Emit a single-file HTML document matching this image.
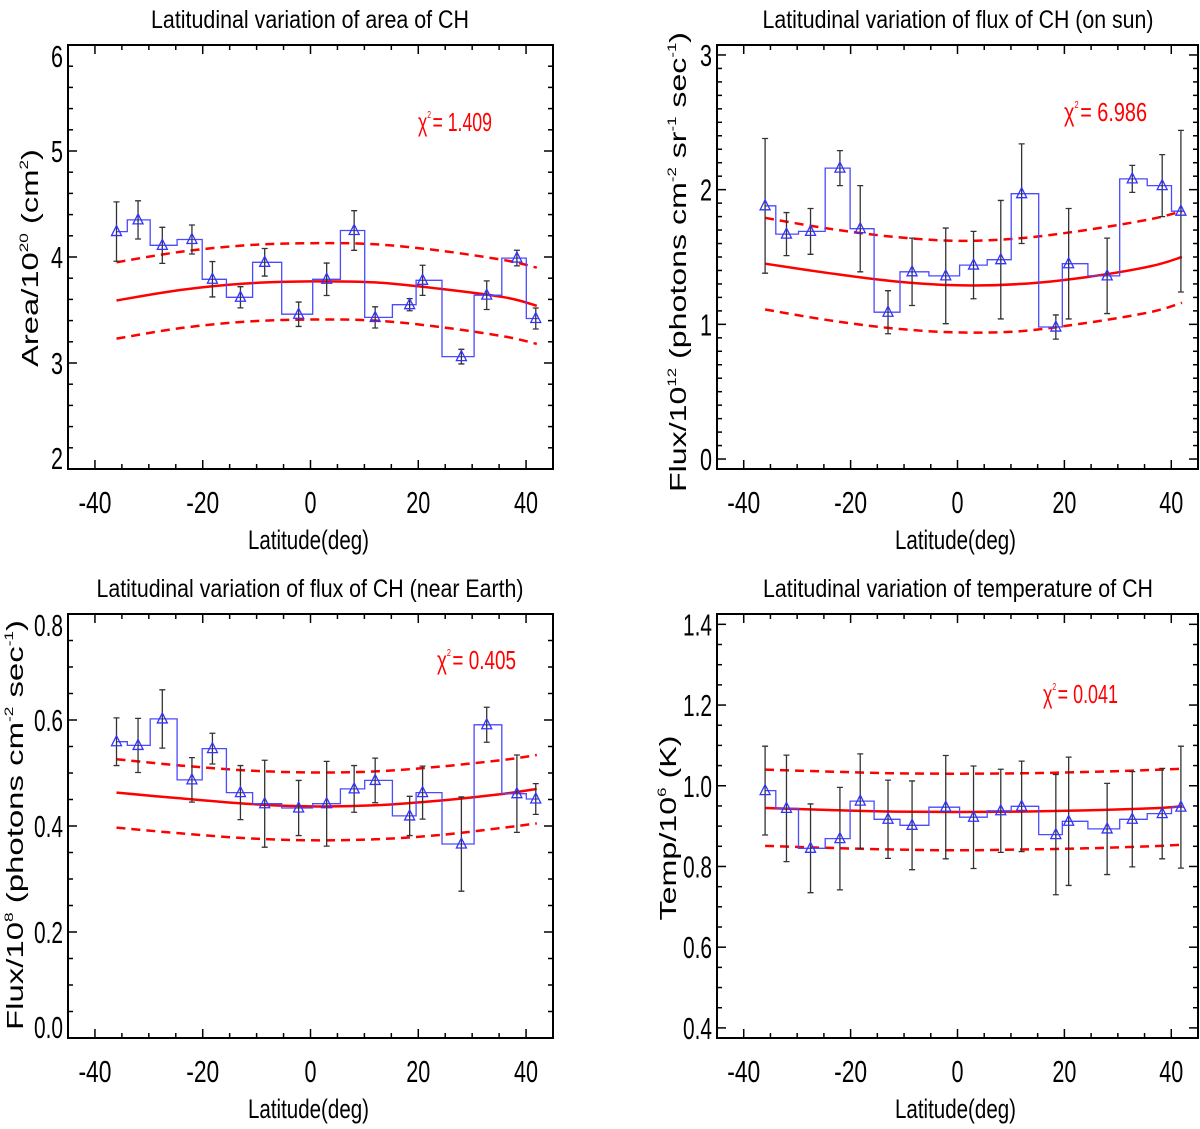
<!DOCTYPE html>
<html><head><meta charset="utf-8">
<style>
html,body{margin:0;padding:0;background:#fff;}
svg{display:block;}
text{font-family:"Liberation Sans",sans-serif;}
</style></head>
<body>
<svg id="fig" width="1200" height="1129" viewBox="0 0 1200 1129" xmlns="http://www.w3.org/2000/svg"></svg>
<script>
const lat = [-36,-32,-27.5,-22,-18.2,-13,-8.5,-2.2,3,8.1,12,18.4,20.8,28,32.7,38.3,41.8];
const fitLat = [-36,-24,-12,0,12,24,36,42];
const xTicks = [-40,-20,0,20,40];

const areaVal = [4.24,4.35,4.11,4.165,3.79,3.62,3.95,3.46,3.79,4.25,3.43,3.55,3.78,3.06,3.64,3.99,3.42];
const areaErr = [0.28,0.18,0.17,0.137,0.167,0.10,0.13,0.115,0.153,0.187,0.10,0.057,0.142,0.069,0.135,0.074,0.099];
const areaFit = [3.59,3.69,3.75,3.77,3.76,3.70,3.62,3.54];
const areaHi = [3.95,4.05,4.11,4.13,4.12,4.06,3.97,3.90];
const areaLo = [3.23,3.33,3.39,3.41,3.40,3.34,3.25,3.18];
const areaYTicks = ["2","3","4","5","6"];

const sunVal = [1.88,1.67,1.69,2.16,1.71,1.09,1.39,1.36,1.44,1.48,1.97,0.98,1.45,1.36,2.08,2.03,1.84];
const sunErr = [0.5,0.16,0.17,0.13,0.32,0.16,0.25,0.355,0.25,0.44,0.37,0.09,0.41,0.28,0.10,0.23,0.6];
const sunFit = [1.45,1.38,1.32,1.29,1.30,1.35,1.43,1.50];
const sunHi = [1.79,1.71,1.65,1.62,1.64,1.70,1.78,1.84];
const sunLo = [1.11,1.03,0.97,0.94,0.95,1.01,1.09,1.16];
const sunYTicks = ["0","1","2","3"];

const earthVal = [0.559,0.552,0.602,0.487,0.546,0.463,0.442,0.434,0.442,0.470,0.486,0.419,0.463,0.366,0.591,0.461,0.451];
const earthErr = [0.045,0.051,0.055,0.042,0.029,0.051,0.082,0.052,0.080,0.044,0.042,0.037,0.050,0.089,0.033,0.073,0.029];
const earthFit = [0.463,0.452,0.442,0.437,0.439,0.448,0.461,0.470];
const earthHi = [0.526,0.514,0.505,0.501,0.503,0.512,0.525,0.534];
const earthLo = [0.397,0.386,0.377,0.373,0.375,0.383,0.397,0.405];
const earthYTicks = ["0.0","0.2","0.4","0.6","0.8"];

const tempVal = [0.988,0.944,0.845,0.869,0.962,0.917,0.902,0.947,0.922,0.938,0.949,0.879,0.912,0.893,0.917,0.931,0.947];
const tempErr = [0.110,0.132,0.110,0.127,0.117,0.097,0.110,0.128,0.127,0.103,0.112,0.149,0.159,0.113,0.118,0.112,0.151];
const tempFit = [0.945,0.940,0.936,0.935,0.936,0.939,0.944,0.949];
const tempHi = [1.040,1.035,1.031,1.030,1.031,1.034,1.039,1.042];
const tempLo = [0.851,0.846,0.842,0.840,0.842,0.845,0.850,0.854];
const tempYTicks = ["0.4","0.6","0.8","1.0","1.2","1.4"];

const NS = "http://www.w3.org/2000/svg";
const svg = document.getElementById('fig');
function mk(tag, attrs, parent){
  const e = document.createElementNS(NS, tag);
  for (const k in attrs) e.setAttribute(k, attrs[k]);
  (parent||svg).appendChild(e);
  return e;
}

const panels = [
 {id:'area', x0:68, x1:553, y0:45, y1:469, ymin:2, ymax:6, minor:0.2, yTicks:areaYTicks,
  val:areaVal, err:areaErr, fit:areaFit, hi:areaHi, lo:areaLo,
  title:"Latitudinal variation of area of CH", tx:310, ty:28, tw:318,
  chi:"= 1.409", cx:418, cy:131, cw:74, ylab:["Area/10","20"," (cm","2",")"], ylx:38, yly:258, ylw:218, lblx:63},
 {id:'flux-sun', x0:717, x1:1198, y0:45, y1:469, ymin:-0.074, ymax:3.074, minor:0.1, yTicks:sunYTicks,
  val:sunVal, err:sunErr, fit:sunFit, hi:sunHi, lo:sunLo,
  title:"Latitudinal variation of flux of CH (on sun)", tx:958, ty:28, tw:391,
  chi:"= 6.986", cx:1064, cy:121, cw:83, ylab:["Flux/10","12"," (photons cm","-2"," sr","-1"," sec","-1",")"], ylx:686, yly:262, ylw:460, lblx:712},
 {id:'flux-earth', x0:68, x1:553, y0:614, y1:1038, ymin:0, ymax:0.8, minor:0.05, yTicks:earthYTicks,
  val:earthVal, err:earthErr, fit:earthFit, hi:earthHi, lo:earthLo,
  title:"Latitudinal variation of flux of CH (near Earth)", tx:310, ty:597, tw:427,
  chi:"= 0.405", cx:437, cy:669, cw:79, ylab:["Flux/10","8"," (photons cm","-2"," sec","-1",")"], ylx:23, yly:825, ylw:410, lblx:63},
 {id:'temp', x0:717, x1:1198, y0:614, y1:1038, ymin:0.375, ymax:1.4256, minor:0.05, yTicks:tempYTicks,
  val:tempVal, err:tempErr, fit:tempFit, hi:tempHi, lo:tempLo,
  title:"Latitudinal variation of temperature of CH", tx:958, ty:597, tw:390,
  chi:"= 0.041", cx:1043, cy:703, cw:75, ylab:["Temp/10","6"," (K)"], ylx:676, yly:828, ylw:185, lblx:712}
];

function smoothPath(pts){
  let d = 'M' + pts[0][0].toFixed(1) + ',' + pts[0][1].toFixed(1);
  for (let i = 0; i < pts.length - 1; i++) {
    const p0 = pts[Math.max(0, i-1)], p1 = pts[i], p2 = pts[i+1], p3 = pts[Math.min(pts.length-1, i+2)];
    const c1x = p1[0] + (p2[0]-p0[0])/6, c1y = p1[1] + (p2[1]-p0[1])/6;
    const c2x = p2[0] - (p3[0]-p1[0])/6, c2y = p2[1] - (p3[1]-p1[1])/6;
    d += ` C${c1x.toFixed(1)},${c1y.toFixed(1)} ${c2x.toFixed(1)},${c2y.toFixed(1)} ${p2[0].toFixed(1)},${p2[1].toFixed(1)}`;
  }
  return d;
}

panels.forEach(p => {
  const g = mk('g', {});
  
  
  const X = v => p.x0 + (v + 45) / 90 * (p.x1 - p.x0);
  const Y = v => p.y1 - (v - p.ymin) / (p.ymax - p.ymin) * (p.y1 - p.y0);

  const t = mk('text', {x:p.tx, y:p.ty, 'text-anchor':'middle', 'font-size':25, textLength:p.tw, lengthAdjust:'spacingAndGlyphs', fill:'#000'}, g);
  t.textContent = p.title;
  
  

  const fr = mk('rect', {x:p.x0, y:p.y0, width:p.x1-p.x0, height:p.y1-p.y0, fill:'none', stroke:'#000', 'stroke-width':2}, g);
  
  

  for (let v = -45; v <= 45; v += 5) {
    const major = v % 20 === 0;
    const L = major ? 9 : 5;
    mk('line', {x1:X(v), x2:X(v), y1:p.y1, y2:p.y1-L, stroke:'#000', 'stroke-width':1.5}, g);
    mk('line', {x1:X(v), x2:X(v), y1:p.y0, y2:p.y0+L, stroke:'#000', 'stroke-width':1.5}, g);
  }
  xTicks.forEach(v => {
    const s = String(v);
    const tl = mk('text', {x:X(v), y:p.y1+44, 'text-anchor':'middle', 'font-size':31, textLength:s.length*12+(v<0?-3:0), lengthAdjust:'spacingAndGlyphs'}, g);
    tl.textContent = s;
    
    
  });
  const xl = mk('text', {x:(p.x0+p.x1)/2 - 2, y:p.y1+80, 'text-anchor':'middle', 'font-size':27, textLength:121, lengthAdjust:'spacingAndGlyphs'}, g);
  xl.textContent = 'Latitude(deg)';
  
  

  const nMinor = Math.round((p.ymax - p.ymin) / p.minor) + 2;
  const startV = Math.ceil(p.ymin / p.minor - 1e-6) * p.minor;
  const majorStep = parseFloat(p.yTicks[1]) - parseFloat(p.yTicks[0]);
  for (let i = 0; i < nMinor; i++) {
    const v = startV + i * p.minor;
    if (v > p.ymax + 1e-6) break;
    const isMaj = Math.abs(v / majorStep - Math.round(v / majorStep)) < 1e-4;
    const L = isMaj ? 9 : 5;
    mk('line', {x1:p.x0, x2:p.x0+L, y1:Y(v), y2:Y(v), stroke:'#000', 'stroke-width':1.5}, g);
    mk('line', {x1:p.x1, x2:p.x1-L, y1:Y(v), y2:Y(v), stroke:'#000', 'stroke-width':1.5}, g);
  }
  p.yTicks.forEach((s) => {
    const v = parseFloat(s);
    const yv = Y(v);
    let yy = yv + 11;
    if (yv - p.y0 < 4) yy = yv + 22;
    if (p.y1 - yv < 4) yy = yv;
    const tl = mk('text', {x:p.lblx, y:yy, 'text-anchor':'end', 'font-size':31, textLength:s.length === 1 ? 12 : 29, lengthAdjust:'spacingAndGlyphs'}, g);
    tl.textContent = s;
    
    
  });
  const yt = mk('text', {x:0, y:0, 'text-anchor':'middle', 'font-size':23, transform:`translate(${p.ylx},${p.yly}) rotate(-90)`, textLength:p.ylw, lengthAdjust:'spacingAndGlyphs'}, g);
  p.ylab.forEach((s, i) => {
    const ts = mk('tspan', {}, yt);
    if (i % 2 === 1) { ts.setAttribute('font-size', 12); ts.setAttribute('dy', -10); }
    else if (i > 0) { ts.setAttribute('dy', 10); }
    ts.textContent = s;
  });
  
  

  const ct = mk('text', {x:p.cx, y:p.cy, 'font-size':26, fill:'#ff0000', textLength:p.cw, lengthAdjust:'spacingAndGlyphs'}, g);
  const c1 = mk('tspan', {}, ct); c1.textContent = 'χ';
  const c2 = mk('tspan', {'font-size':10, dy:-13}, ct); c2.textContent = '2';
  const c3 = mk('tspan', {dy:13, dx:2}, ct); c3.textContent = p.chi;
  
  

  const fitPath = arr => smoothPath(fitLat.map((v, i) => [X(v), Y(arr[i])]));
  const fs = mk('path', {d:fitPath(p.fit), fill:'none', stroke:'#ff0000', 'stroke-width':2.5}, g);
  
  
  const fh = mk('path', {d:fitPath(p.hi), fill:'none', stroke:'#ff0000', 'stroke-width':2.5, 'stroke-dasharray':'9,6'}, g);
  
  
  const fl = mk('path', {d:fitPath(p.lo), fill:'none', stroke:'#ff0000', 'stroke-width':2.5, 'stroke-dasharray':'9,6'}, g);
  
  

  const n = lat.length;
  let d = '';
  for (let i = 0; i < n; i++) {
    const l = i === 0 ? lat[0] : (lat[i-1] + lat[i]) / 2;
    const r = i === n - 1 ? lat[i] + 0.5 : (lat[i] + lat[i+1]) / 2;
    d += (i === 0 ? 'M' + X(l).toFixed(1) + ',' + Y(p.val[i]).toFixed(1) : ' V' + Y(p.val[i]).toFixed(1)) + ' H' + X(r).toFixed(1);
  }
  const st = mk('path', {d:d, fill:'none', stroke:'#4a4aff', 'stroke-width':1.3}, g);
  
  

  for (let i = 0; i < n; i++) {
    const x = X(lat[i]);
    const yt1 = Y(p.val[i] + p.err[i]), yb = Y(p.val[i] - p.err[i]);
    const eb = mk('path', {d:`M${x},${yt1} V${yb} M${x-3},${yt1} H${x+3} M${x-3},${yb} H${x+3}`, stroke:'#333', 'stroke-width':1.3, fill:'none'}, g);
    
    
    const y = Y(p.val[i]);
    const tr = mk('path', {d:`M${x},${y-6} L${x+5},${y+4} L${x-5},${y+4} Z`, fill:'none', stroke:'#3333ff', 'stroke-width':1.3}, g);
    
    
  }
});
</script>
</body></html>
